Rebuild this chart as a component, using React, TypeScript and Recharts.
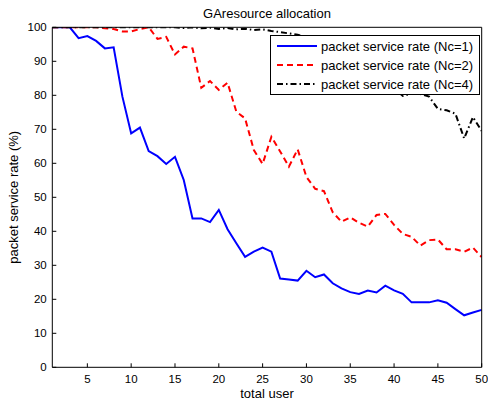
import React from "react";
import { LineChart, Line, XAxis, YAxis, Legend, Label } from "recharts";

const users = [1, 2, 3, 4, 5, 6, 7, 8, 9, 10, 11, 12, 13, 14, 15, 16, 17, 18, 19, 20, 21, 22, 23, 24, 25, 26, 27, 28, 29, 30, 31, 32, 33, 34, 35, 36, 37, 38, 39, 40, 41, 42, 43, 44, 45, 46, 47, 48, 49, 50];

const nc1 = [100, 100, 100, 96.8, 97.4, 96.0, 93.8, 94.1, 79.6, 68.8, 70.5, 63.6, 62.1, 59.8, 61.9, 55.1, 43.8, 43.8, 42.7, 46.3, 40.6, 36.5, 32.5, 34.0, 35.2, 34.0, 26.1, 25.8, 25.5, 28.4, 26.5, 27.3, 24.7, 23.2, 22.1, 21.6, 22.6, 22.0, 24.0, 22.6, 21.6, 19.1, 19.1, 19.1, 19.7, 19.0, 17.1, 15.3, 16.1, 16.9];

const nc2 = [100, 100, 100, 100, 100, 100, 99.7, 99.5, 98.8, 98.8, 99.5, 100, 96.6, 97.2, 92.0, 94.3, 93.8, 82.2, 84.2, 81.6, 83.7, 75.2, 73.2, 63.9, 59.8, 67.8, 63.5, 59.0, 64.1, 56.0, 52.5, 51.8, 45.6, 42.8, 44.1, 42.5, 41.4, 44.8, 45.1, 41.9, 39.2, 38.4, 35.8, 37.4, 37.6, 34.7, 34.7, 34.0, 35.2, 32.4];

const nc4 = [100, 100, 100, 100, 100, 100, 100, 100, 100, 100, 100, 100, 100, 100, 100, 99.8, 100, 99.7, 99.9, 99.5, 99.8, 99.4, 99.6, 99.2, 99.4, 98.9, 98.6, 98.2, 97.8, 97.2, 96.5, 95.8, 94.5, 93.0, 91.5, 90.0, 88.5, 86.5, 84.5, 82.0, 79.8, 80.5, 80.4, 79.6, 76.0, 75.6, 74.6, 67.3, 73.6, 69.5];

const xTicks = [5, 10, 15, 20, 25, 30, 35, 40, 45, 50];
const yTicks = [0, 10, 20, 30, 40, 50, 60, 70, 80, 90, 100];

const seriesNames = [
  "packet service rate (Nc=1)",
  "packet service rate (Nc=2)",
  "packet service rate (Nc=4)",
];
const titleText = "GAresource allocation";
const xLabelText = "total user";
const yLabelText = "packet service rate (%)";

const data = users.map((u, i) => ({ user: u, nc1: nc1[i], nc2: nc2[i], nc4: nc4[i] }));

const FONT = "'Liberation Sans', Arial, sans-serif";
const W = 488;
const H = 408;
// plot area (page px): left 52.3, right 481.7, top 27.3, bottom 367.3
const X_H = 30;
const TOP_H = 10;
const Y_W = 40;
const R_W = 5;
const M = { top: 27.3 - TOP_H, right: 6.3 - R_W, bottom: 40.7 - X_H, left: 52.3 - Y_W };

const styles = [
  { key: "nc1", color: "#0000ff", dash: undefined as string | undefined },
  { key: "nc2", color: "#ff0000", dash: "6 4" },
  { key: "nc4", color: "#000000", dash: "6 3 1.5 3" },
];

const LegendBox = () => (
  <svg width={210} height={60} style={{ display: "block" }}>
    <rect x={0.5} y={0.5} width={209} height={59} fill="#fff" stroke="#000" strokeWidth={1} />
    {styles.map((s, i) => (
      <g key={s.key}>
        <line x1={7} x2={47} y1={11 + i * 19} y2={11 + i * 19} stroke={s.color} strokeWidth={2} strokeDasharray={s.dash} />
        <text x={51} y={15.5 + i * 19} fontSize={13} fontFamily={FONT} fill="#000">
          {seriesNames[i]}
        </text>
      </g>
    ))}
  </svg>
);

const cx = (52.3 + 481.7) / 2;
const cy = (27.3 + 367.3) / 2;

export default function App() {
  const tickStyle = { fill: "#000", fontSize: 11.5, fontFamily: FONT };
  return (
    <div style={{ position: "absolute", left: 0, top: 0, width: W, height: H }}>
      <LineChart width={W} height={H} data={data} margin={M} style={{ fontFamily: FONT }}>
        <XAxis
          dataKey="user"
          type="number"
          domain={[1, 50]}
          ticks={xTicks}
          height={X_H}
          tickSize={-4}
          tickMargin={11.7}
          tick={tickStyle}
          axisLine={{ stroke: "#000" }}
          tickLine={{ stroke: "#000" }}
          allowDataOverflow
        >
          <Label
            content={() => (
              <text x={cx} y={398.3} textAnchor="middle" fontSize={13} fontFamily={FONT} fill="#000">
                {xLabelText}
              </text>
            )}
          />
        </XAxis>
        <XAxis
          xAxisId="top"
          orientation="top"
          type="number"
          domain={[1, 50]}
          ticks={xTicks}
          height={TOP_H}
          tickSize={-4}
          tick={false}
          axisLine={{ stroke: "#000" }}
          tickLine={{ stroke: "#000" }}
          allowDataOverflow
        >
          <Label
            content={() => (
              <text x={cx} y={18.3} textAnchor="middle" fontSize={13} fontFamily={FONT} fill="#000">
                {titleText}
              </text>
            )}
          />
        </XAxis>
        <YAxis
          type="number"
          domain={[0, 100]}
          ticks={yTicks}
          width={Y_W}
          tickSize={-4}
          tickMargin={9.6}
          tick={tickStyle}
          axisLine={{ stroke: "#000" }}
          tickLine={{ stroke: "#000" }}
          allowDataOverflow
        >
          <Label
            content={() => (
              <text
                x={18}
                y={cy}
                textAnchor="middle"
                fontSize={13}
                fontFamily={FONT}
                fill="#000"
                transform={`rotate(-90, 18, ${cy})`}
              >
                {yLabelText}
              </text>
            )}
          />
        </YAxis>
        <YAxis
          yAxisId="right"
          orientation="right"
          type="number"
          domain={[0, 100]}
          ticks={yTicks}
          width={R_W}
          tickSize={-4}
          tick={false}
          axisLine={{ stroke: "#000" }}
          tickLine={{ stroke: "#000" }}
          allowDataOverflow
        />
        {styles.map((s, i) => (
          <Line
            key={s.key}
            dataKey={s.key}
            name={seriesNames[i]}
            type="linear"
            stroke={s.color}
            strokeWidth={2}
            strokeDasharray={s.dash}
            dot={false}
            activeDot={false}
            isAnimationActive={false}
          />
        ))}
        <Legend
          layout="vertical"
          align="center"
          verticalAlign="middle"
          content={() => <LegendBox />}
          wrapperStyle={{ position: "absolute", left: 270, top: 35, width: 210, height: 60 }}
        />
      </LineChart>
    </div>
  );
}
